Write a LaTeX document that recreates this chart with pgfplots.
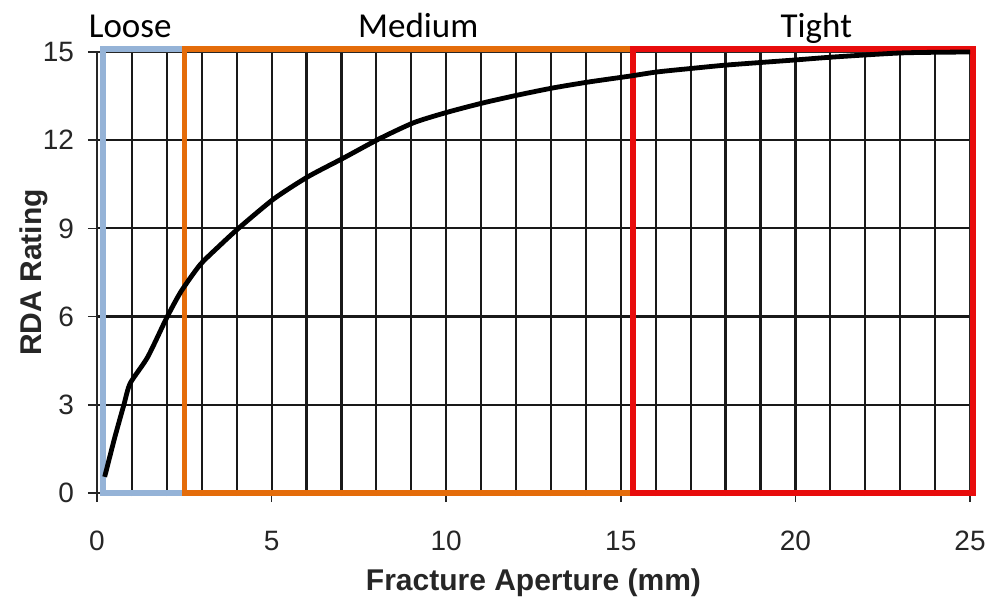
\documentclass[border=0pt]{standalone}
\usepackage{fontspec}
\setmainfont{Liberation Sans}
\newfontfamily\calib{Carlito}
\usepackage{pgfplots}
\pgfplotsset{compat=1.18}
\definecolor{loosec}{RGB}{149,179,215}
\definecolor{medc}{RGB}{228,108,10}
\definecolor{tightc}{RGB}{232,12,12}
\begin{document}
\begin{tikzpicture}
\begin{axis}[
  name=ax,
  scale only axis,
  width=436.5pt, height=220.5pt,
  xmin=0, xmax=25, ymin=0, ymax=15,
  xtick={0,5,...,25}, ytick={0,3,...,15},
  minor x tick num=4,
  xmajorgrids, xminorgrids, ymajorgrids,
  grid style={black!90, line width=1.1pt},
  minor grid style={black!90, line width=1.1pt},
  tick pos=left, tick align=outside,
  major tick length=4.5pt, minor tick length=1.5pt,
  tick style={black!85, line width=0.8pt},
  axis line style={black!85, line width=0.8pt},
  /pgf/number format/assume math mode=true,
  ticklabel style={font=\fontsize{14}{16}\selectfont, text=black!85},
  xticklabel style={yshift=-11pt},
  yticklabel style={xshift=-3.5pt},
  xlabel={Fracture Aperture (mm)},
  ylabel={RDA Rating},
  label style={font=\fontsize{15}{17}\selectfont\bfseries, text=black!85},
  xlabel style={at={(axis description cs:0.5,0)}, anchor=base, yshift=-48.5pt},
  ylabel style={at={(axis description cs:0,0.5)}, anchor=base, yshift=27.5pt},
  clip=false,
]
% region boxes
\addplot[loosec, line width=3pt, line join=miter] coordinates {(2.5,0) (0.17,0) (0.17,15.1) (2.5,15.1)};
\addplot[medc, line width=2.6pt, line join=miter] coordinates {(15.35,0) (2.5,0) (2.5,15.1) (15.35,15.1)};
\addplot[tightc, line width=3.2pt, line join=miter] coordinates {(15.35,0) (25.08,0) (25.08,15.1) (15.35,15.1) (15.35,0)} -- cycle;
% curve
\addplot[black, line width=2.4pt, smooth, tension=0.4] coordinates {
(0.22,0.55) (0.5,1.85) (0.77,3.0) (0.95,3.73) (1.45,4.62) (2.0,5.97) (2.41,6.86)
(2.95,7.76) (3.5,8.4) (4.05,9.0) (5.06,10.0) (6.03,10.75) (7.07,11.4)
(8.07,12.04) (9.08,12.6) (10.06,12.96) (11.06,13.27) (12.07,13.54)
(13.07,13.78) (14.08,13.98) (15.26,14.18) (16.03,14.32) (17.1,14.45)
(18.07,14.56) (20,14.73) (21.1,14.83) (23.07,14.97) (25,15.0)};
\node[anchor=base, font=\calib\fontsize{17.5}{20}\selectfont] at (axis cs:0.95,15.48) {Loose};
\node[anchor=base, font=\calib\fontsize{17.5}{20}\selectfont] at (axis cs:9.2,15.48) {Medium};
\node[anchor=base, font=\calib\fontsize{17.5}{20}\selectfont] at (axis cs:20.6,15.48) {Tight};
\end{axis}
\pgfresetboundingbox
\path[use as bounding box] ([shift={(-48.5pt,-52.5pt)}]ax.south west) rectangle ([shift={(11.5pt,26pt)}]ax.north east);
\end{tikzpicture}
\end{document}
